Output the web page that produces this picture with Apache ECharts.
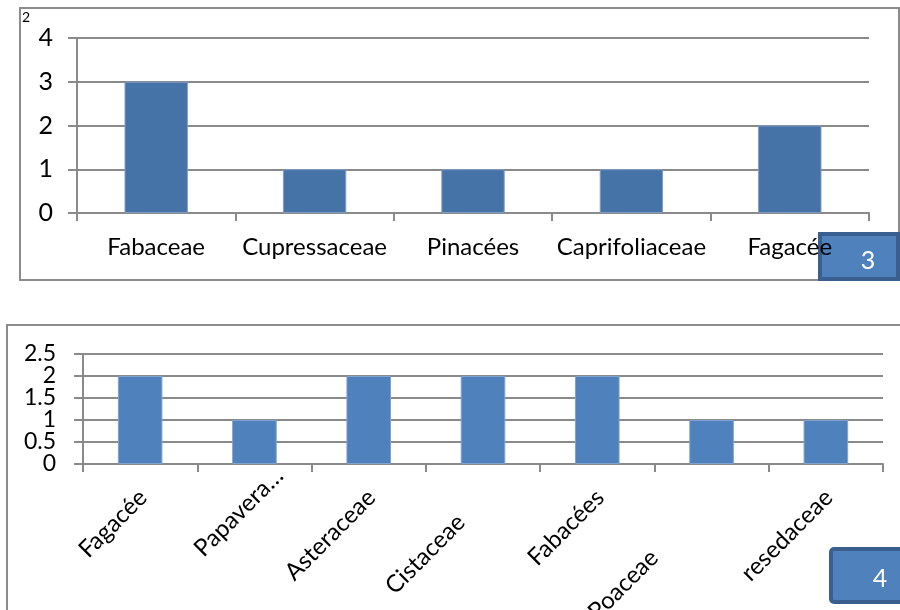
<!DOCTYPE html>
<html>
<head>
<meta charset="utf-8">
<script src="https://cdn.jsdelivr.net/npm/echarts@6/dist/echarts.min.js"></script>
<style>
  html, body { margin: 0; padding: 0; background: #ffffff; }
  #chart { width: 900px; height: 610px; }
</style>
</head>
<body>
<div id="chart"></div>
<script>
// Upper panel: families and counts
const topCategories = ['Fabaceae', 'Cupressaceae', 'Pinacées', 'Caprifoliaceae', 'Fagacée'];
const topValues = [3, 1, 1, 1, 2];

// Lower panel: families and counts
const bottomCategories = ['Fagacée', 'Papavera…', 'Asteraceae', 'Cistaceae', 'Fabacées', 'Poaceae', 'resedaceae'];
const bottomValues = [2, 1, 2, 2, 2, 1, 1];
// Lower value-axis labels, split into whole and half steps
const bottomWholeTicks = [0, 1, 2];
const bottomHalfTicks = [0.5, 1.5, 2.5];

// Trailing space after each rotated label (staggered layout)
const bottomLabelShift = [31, 0, 31, 66, 31, 116, 31];

const FONT = 'Lato';
const GRID_GREY = '#8a8a8a';

const chart = echarts.init(document.getElementById('chart'), null, { renderer: 'canvas' });

const axisLine = { show: true, lineStyle: { color: GRID_GREY, width: 2 } };
const splitLine = { show: true, lineStyle: { color: GRID_GREY, width: 2 } };
const bottomLabel = (values) => ({
  color: '#000', fontFamily: FONT, fontSize: 23, margin: 27, customValues: values,
  showMinLabel: true, showMaxLabel: true, hideOverlap: false
});

chart.setOption({
  animation: false,
  backgroundColor: '#ffffff',
  grid: [
    { left: 77, right: 31, top: 38, height: 175, containLabel: false, outerBoundsMode: 'none' },
    { left: 83, right: 17, top: 354, height: 110, containLabel: false, outerBoundsMode: 'none' }
  ],
  xAxis: [
    {
      type: 'category', gridIndex: 0, data: topCategories,
      axisLine: axisLine,
      axisTick: { show: true, alignWithLabel: false, length: 8, lineStyle: { color: GRID_GREY, width: 2 } },
      axisLabel: { color: '#000', fontFamily: FONT, fontSize: 24, margin: 22, interval: 0, hideOverlap: false }
    },
    {
      type: 'category', gridIndex: 1,
      data: bottomCategories.map((c, i) => ({
        value: c,
        textStyle: { padding: [0, bottomLabelShift[i], 0, 0] }
      })),
      axisLine: axisLine,
      axisTick: { show: true, length: 8, lineStyle: { color: GRID_GREY, width: 2 } },
      axisLabel: { color: '#000', fontFamily: FONT, fontSize: 24, lineHeight: 70, margin: -17, rotate: 45,
        formatter: (v) => '\n' + v, interval: 0, hideOverlap: false }
    }
  ],
  yAxis: [
    {
      type: 'value', gridIndex: 0, min: 0, max: 4, interval: 1,
      axisLine: axisLine,
      axisTick: { show: true, inside: false, length: 9, lineStyle: { color: GRID_GREY, width: 2 } },
      splitLine: splitLine,
      axisLabel: { color: '#000', fontFamily: FONT, fontSize: 25, margin: 24,
        showMinLabel: true, showMaxLabel: true, hideOverlap: false }
    },
    {
      type: 'value', gridIndex: 1, position: 'left', offset: 0, min: 0, max: 2.5, interval: 0.5,
      axisLine: axisLine,
      axisTick: { show: true, inside: false, length: 9, lineStyle: { color: GRID_GREY, width: 2 } },
      splitLine: splitLine,
      axisLabel: bottomLabel(bottomWholeTicks)
    },
    {
      type: 'value', gridIndex: 1, position: 'left', offset: 0, min: 0, max: 2.5, interval: 0.5,
      axisLine: { show: false },
      axisTick: { show: false },
      splitLine: { show: false },
      axisLabel: bottomLabel(bottomHalfTicks)
    }
  ],
  series: [
    {
      type: 'bar', xAxisIndex: 0, yAxisIndex: 0, data: topValues,
      barWidth: '40%',
      itemStyle: { color: '#4572a7', borderColor: '#7f9cc3', borderWidth: 1 }
    },
    {
      type: 'bar', xAxisIndex: 1, yAxisIndex: 1, data: bottomValues,
      barWidth: '39%',
      itemStyle: { color: '#4f81bd', borderColor: '#7fa3cf', borderWidth: 1 }
    }
  ],
  graphic: [
    // panel frames
    { type: 'rect', z: -1, shape: { x: 20, y: 8, width: 879, height: 272 },
      style: { fill: 'none', stroke: '#8c8c8c', lineWidth: 2 } },
    { type: 'rect', z: -1, shape: { x: 7, y: 325, width: 900, height: 300 },
      style: { fill: 'none', stroke: '#8c8c8c', lineWidth: 2 } },
    // small mark in upper frame corner
    { type: 'text', left: 22, top: 10,
      style: { text: '2', fontFamily: FONT, fontSize: 14, fill: '#000' } },
    // page number boxes
    { type: 'group', z: 100, children: [
      { type: 'rect', shape: { x: 820, y: 234, width: 78, height: 45 },
        style: { fill: '#4f81bd', stroke: '#3a5f8e', lineWidth: 4 } },
      { type: 'text', style: { x: 868, y: 261, text: '3', fontFamily: FONT, fontSize: 25,
        fill: '#ffffff', align: 'center', verticalAlign: 'middle' } }
    ] },
    { type: 'group', z: 100, children: [
      { type: 'rect', shape: { x: 831, y: 549, width: 80, height: 53, r: 3 },
        style: { fill: '#4f81bd', stroke: '#3a5f8e', lineWidth: 4 } },
      { type: 'text', style: { x: 880, y: 579, text: '4', fontFamily: FONT, fontSize: 25,
        fill: '#ffffff', align: 'center', verticalAlign: 'middle' } }
    ] }
  ]
});
</script>
</body>
</html>
